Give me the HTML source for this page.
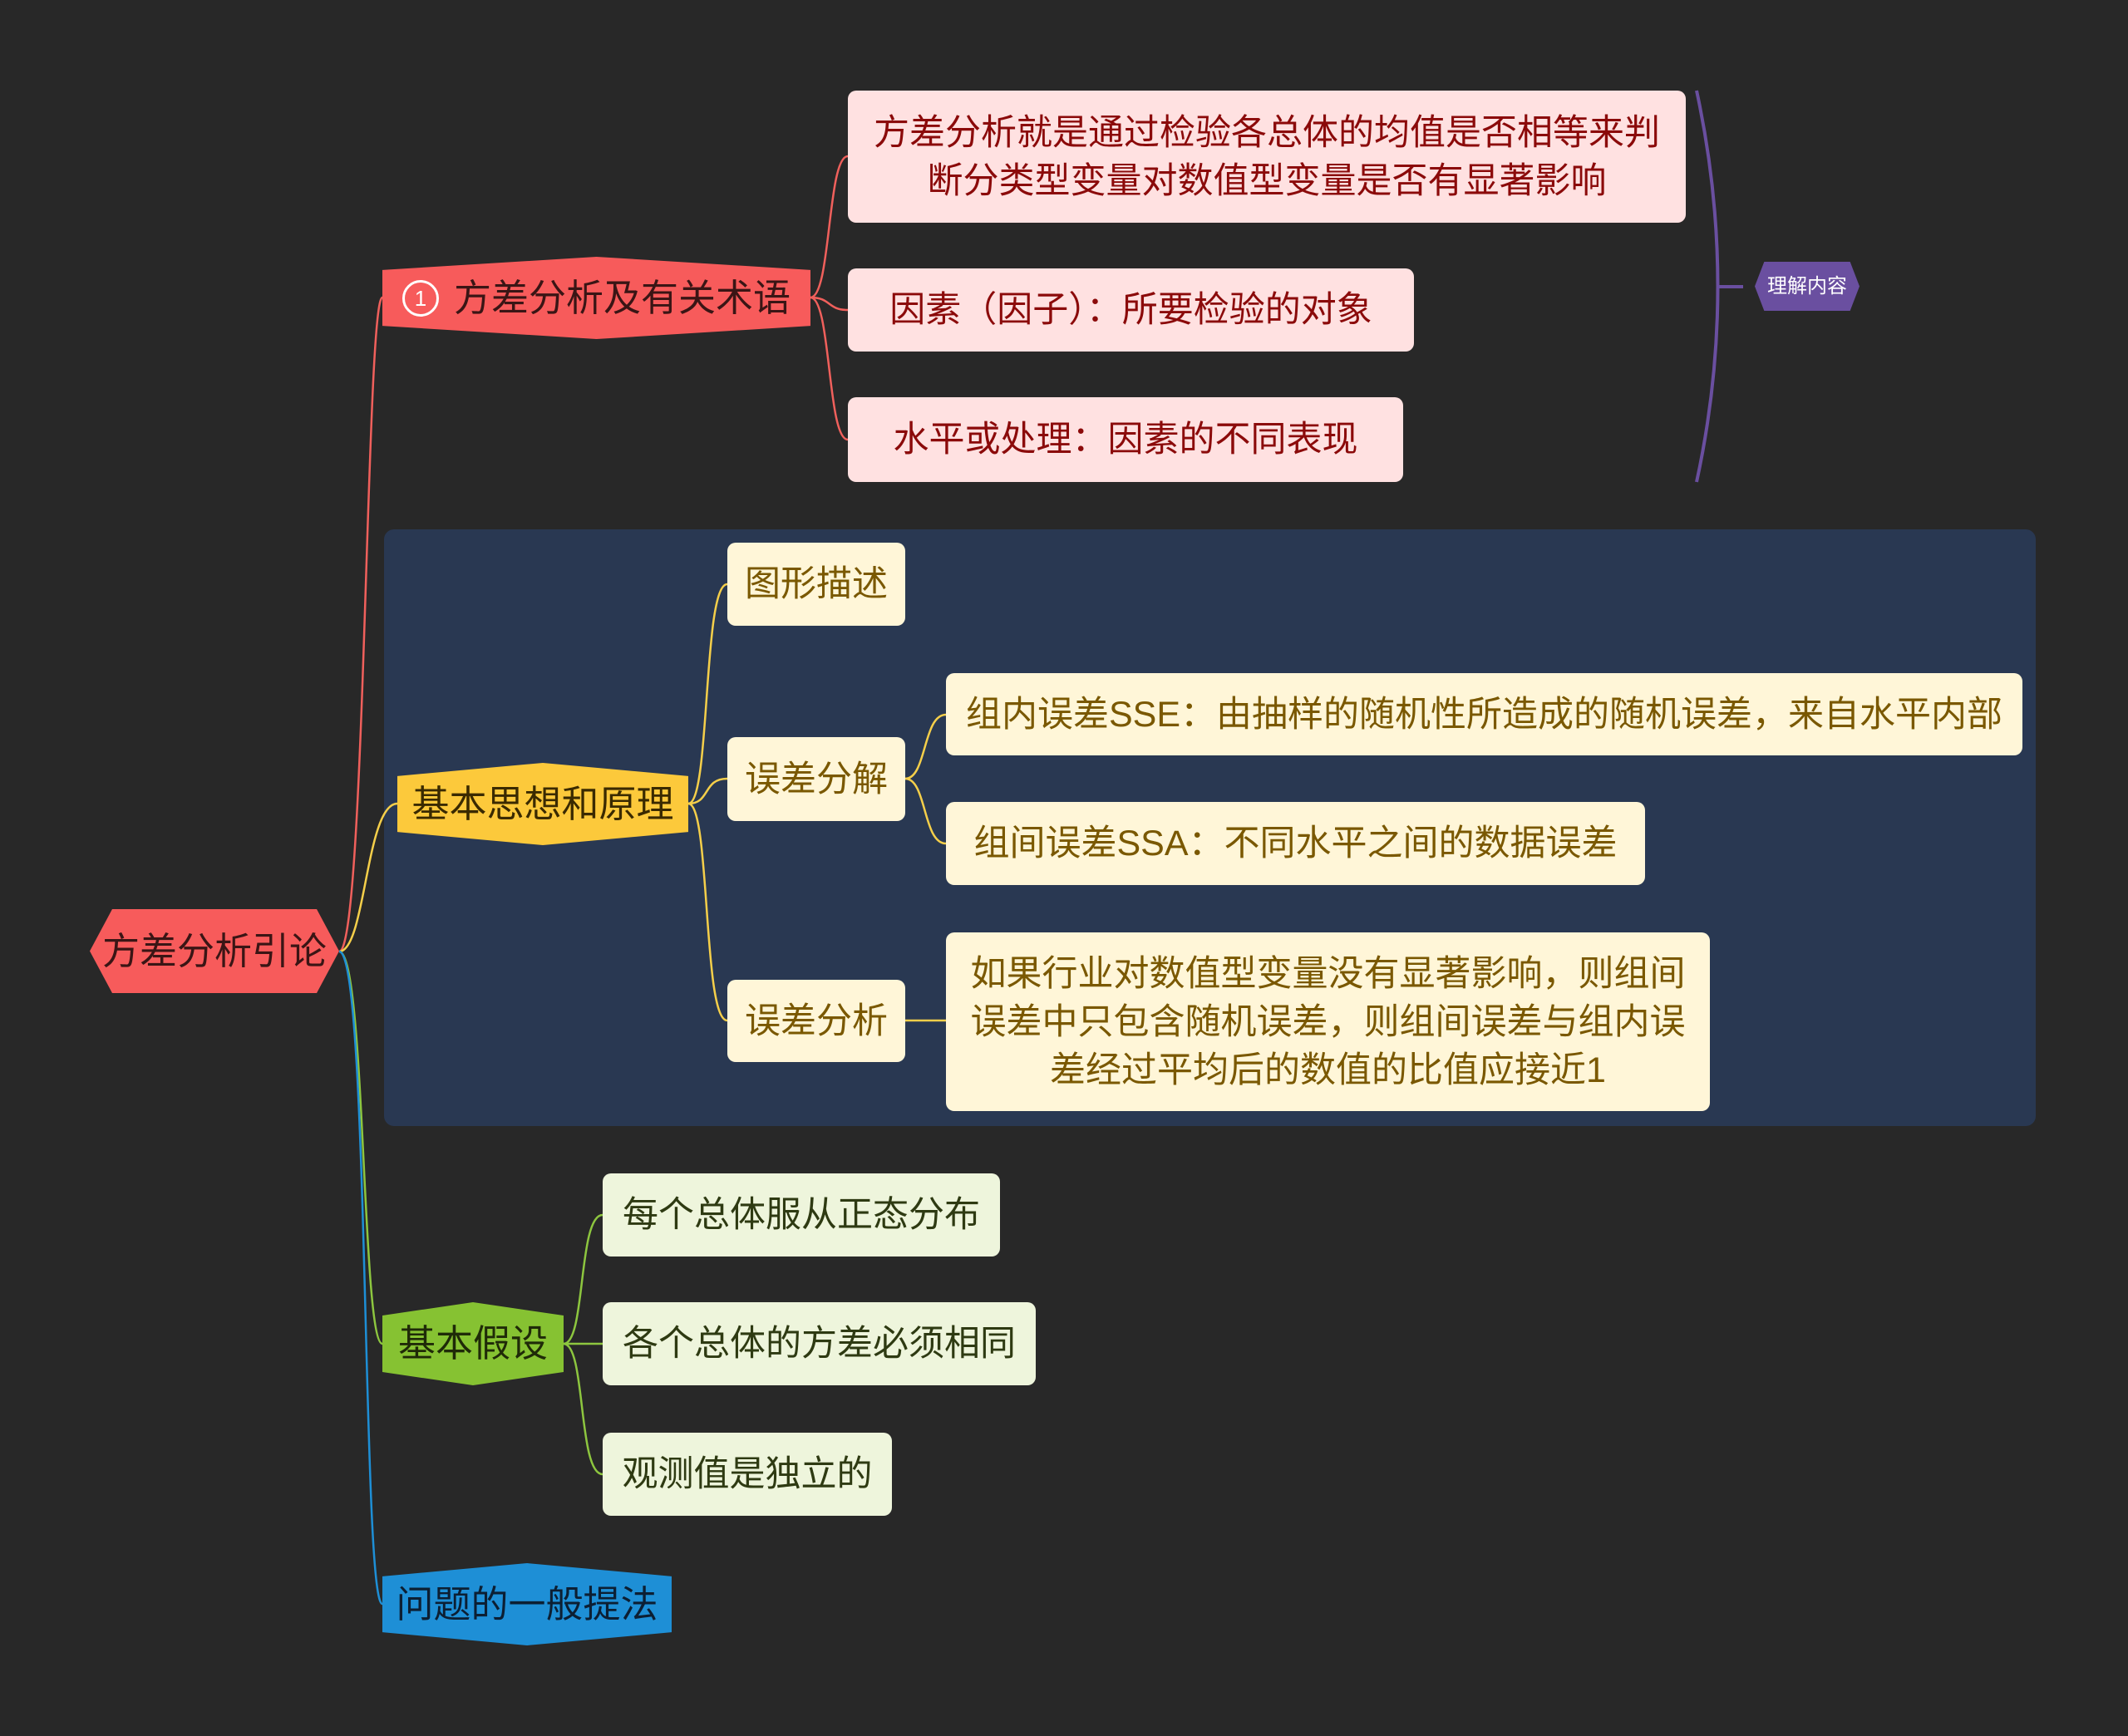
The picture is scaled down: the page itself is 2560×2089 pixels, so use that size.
<!DOCTYPE html>
<html><head><meta charset="utf-8"><style>
html,body{margin:0;padding:0;background:#282828;}
body{width:2560px;height:2089px;position:relative;overflow:hidden;font-family:"Liberation Sans","Noto Sans CJK SC",sans-serif;}
.n{position:absolute;display:flex;align-items:center;justify-content:center;text-align:center;box-sizing:border-box;font-size:43px;line-height:58px;}
.pk{background:#ffe1e1;color:#8b0a0a;border-radius:10px;}
.yl{background:#fff6d8;color:#7a5800;border-radius:10px;}
.gr{background:#eef5dc;color:#2e3a12;border-radius:10px;}
.hx{clip-path:polygon(0 16%,50% 0,100% 16%,100% 84%,50% 100%,0 84%);}
.hs{clip-path:polygon(0 50%,9% 0,91% 0,100% 50%,91% 100%,9% 100%);}
</style></head><body>
<div style="position:absolute;left:462px;top:637px;width:1987px;height:718px;background:#293852;border-radius:12px;"></div>
<svg width="2560" height="2089" style="position:absolute;left:0;top:0" fill="none" stroke-width="2.5">
<g stroke="#f0605c">
<path d="M408 1145 C440 1145,440 358,460 358"/>
<path d="M975 358 C1000 358,995 188,1020 188"/>
<path d="M975 358 C1000 358,995 373,1020 373"/>
<path d="M975 358 C1000 358,995 529,1020 529"/>
</g>
<g stroke="#f5cf4a">
<path d="M408 1145 C440 1145,440 967,478 967"/>
<path d="M828 967 C855 967,845 703,875 703"/>
<path d="M828 967 C855 967,845 937,875 937"/>
<path d="M828 967 C855 967,845 1228,875 1228"/>
<path d="M1089 937 C1115 937,1110 860,1138 860"/>
<path d="M1089 937 C1115 937,1110 1015,1138 1015"/>
<path d="M1089 1228 L1138 1228"/>
</g>
<g stroke="#8dc63f">
<path d="M408 1145 C440 1145,435 1617,460 1617"/>
<path d="M678 1617 C705 1617,695 1462,725 1462"/>
<path d="M678 1617 L725 1617"/>
<path d="M678 1617 C705 1617,695 1774,725 1774"/>
</g>
<g stroke="#1e8fd6">
<path d="M408 1145 C445 1145,435 1930,460 1930"/>
</g>
<g stroke="#6a4fa0" stroke-width="4">
<path d="M2041 109 Q2092 345 2041 580"/>
<path d="M2066 345 L2097 345"/>
</g>
</svg>
<div class="n hs" style="left:108px;top:1094px;width:300px;height:101px;background:#f75b5b;color:#3a1515;font-size:45px;">方差分析引论</div>
<div class="n hx" style="left:460px;top:309px;width:515px;height:99px;background:#f75b5b;color:#3a1515;font-size:45px;"><span style="display:inline-block;width:38px;height:38px;border:3px solid #fff;border-radius:50%;color:#fff;font-size:26px;line-height:38px;margin-right:18px;">1</span>方差分析及有关术语</div>
<div class="n pk" style="left:1020px;top:109px;width:1008px;height:159px;">方差分析就是通过检验各总体的均值是否相等来判<br>断分类型变量对数值型变量是否有显著影响</div>
<div class="n pk" style="left:1020px;top:323px;width:681px;height:100px;">因素（因子）：所要检验的对象</div>
<div class="n pk" style="left:1020px;top:478px;width:668px;height:102px;">水平或处理：因素的不同表现</div>
<div class="n hs" style="left:2111px;top:315px;width:126px;height:59px;background:#6a4fa0;color:#fff;font-size:24px;">理解内容</div>
<div class="n hx" style="left:478px;top:918px;width:350px;height:99px;background:#fcc93b;color:#3a2a00;font-size:45px;">基本思想和原理</div>
<div class="n yl" style="left:875px;top:653px;width:214px;height:100px;">图形描述</div>
<div class="n yl" style="left:875px;top:887px;width:214px;height:101px;">误差分解</div>
<div class="n yl" style="left:875px;top:1179px;width:214px;height:99px;">误差分析</div>
<div class="n yl" style="left:1138px;top:810px;width:1295px;height:99px;">组内误差SSE：由抽样的随机性所造成的随机误差，来自水平内部</div>
<div class="n yl" style="left:1138px;top:965px;width:841px;height:100px;">组间误差SSA：不同水平之间的数据误差</div>
<div class="n yl" style="left:1138px;top:1122px;width:919px;height:215px;">如果行业对数值型变量没有显著影响，则组间<br>误差中只包含随机误差，则组间误差与组内误<br>差经过平均后的数值的比值应接近1</div>
<div class="n hx" style="left:460px;top:1567px;width:218px;height:100px;background:#86c232;color:#1f2a08;font-size:45px;">基本假设</div>
<div class="n gr" style="left:725px;top:1412px;width:478px;height:100px;">每个总体服从正态分布</div>
<div class="n gr" style="left:725px;top:1567px;width:521px;height:100px;">各个总体的方差必须相同</div>
<div class="n gr" style="left:725px;top:1724px;width:348px;height:100px;">观测值是独立的</div>
<div class="n hx" style="left:460px;top:1881px;width:348px;height:99px;background:#1e8fd6;color:#0c1f33;font-size:45px;">问题的一般提法</div>
</body></html>
